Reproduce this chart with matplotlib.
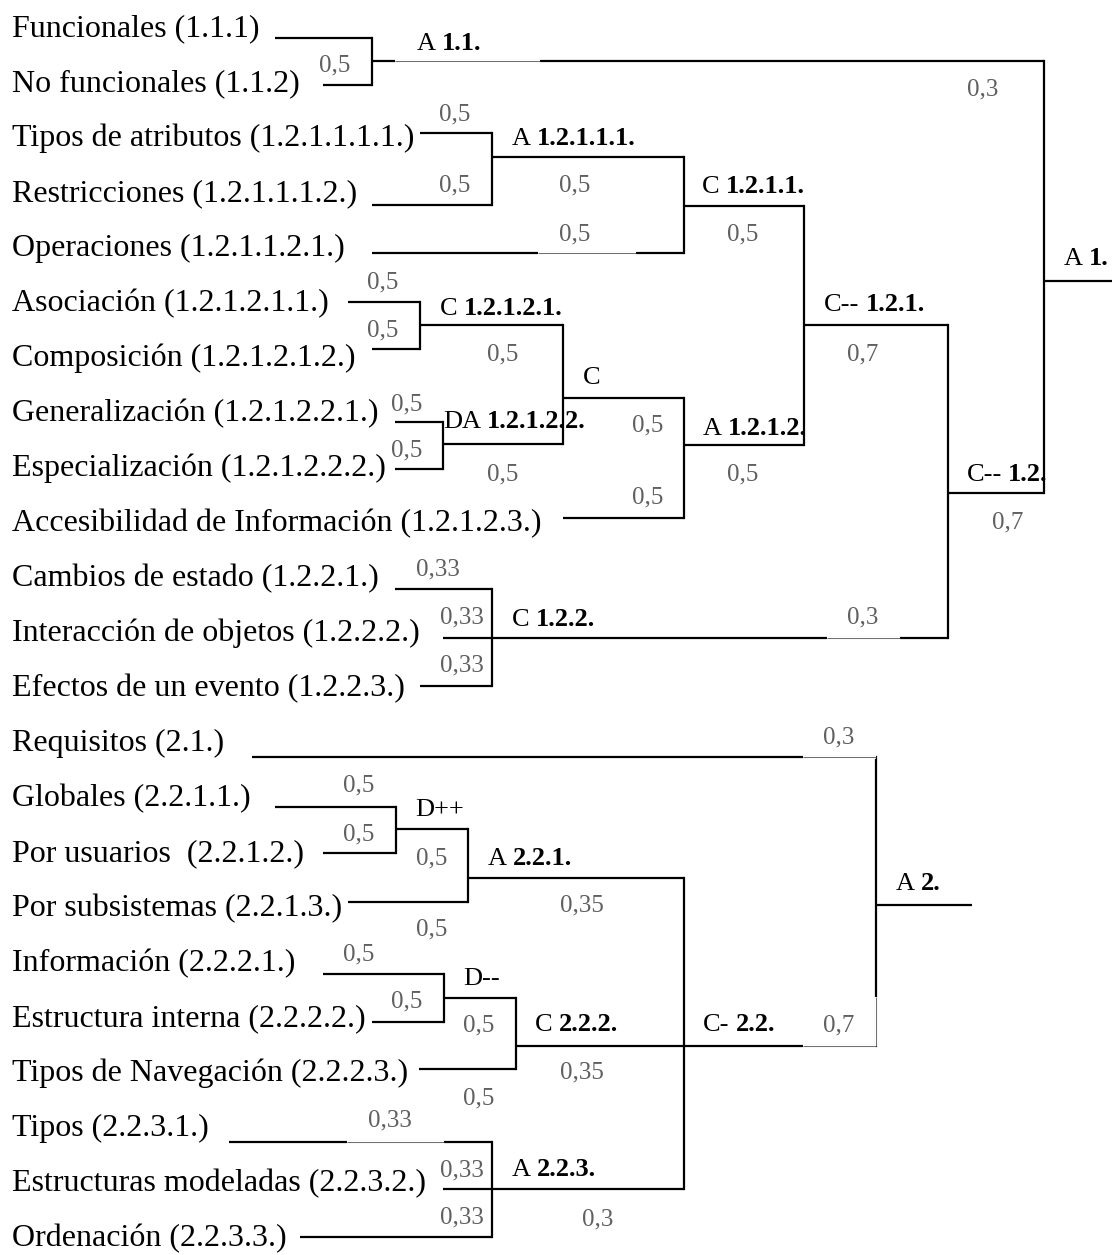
import matplotlib
matplotlib.use("Agg")
import matplotlib.pyplot as plt

# ---- data: leaves, aggregation nodes, weights ----
leaf_labels = [
    "Funcionales (1.1.1)", "No funcionales (1.1.2)",
    "Tipos de atributos (1.2.1.1.1.1.)", "Restricciones (1.2.1.1.1.2.)",
    "Operaciones (1.2.1.1.2.1.)", "Asociación (1.2.1.2.1.1.)",
    "Composición (1.2.1.2.1.2.)", "Generalización (1.2.1.2.2.1.)",
    "Especialización (1.2.1.2.2.2.)", "Accesibilidad de Información (1.2.1.2.3.)",
    "Cambios de estado (1.2.2.1.)", "Interacción de objetos (1.2.2.2.)",
    "Efectos de un evento (1.2.2.3.)", "Requisitos (2.1.)",
    "Globales (2.2.1.1.)", "Por usuarios  (2.2.1.2.)",
    "Por subsistemas (2.2.1.3.)", "Información (2.2.2.1.)",
    "Estructura interna (2.2.2.2.)", "Tipos de Navegación (2.2.2.3.)",
    "Tipos (2.2.3.1.)", "Estructuras modeladas (2.2.3.2.)",
    "Ordenación (2.2.3.3.)",
]
leaf_weights = ["", "0,5", "0,5", "0,5", "0,5", "0,5", "0,5", "0,5", "0,5", "0,5",
                "0,33", "0,33", "0,33", "0,3", "0,5", "0,5", "0,5", "0,5", "0,5",
                "0,5", "0,33", "0,33", "0,33"]

node_names = ["A11", "A12111", "C1211", "C12121", "DA12122", "Cx", "A1212", "C121",
              "C122", "C12", "A1", "Dpp", "A221", "Dmm", "C222", "A223", "C22", "A2"]
node_ops = ["A", "A", "C", "C", "DA", "C", "A", "C--", "C", "C--", "A",
            "D++", "A", "D--", "C", "A", "C-", "A"]
node_codes = ["1.1.", "1.2.1.1.1.", "1.2.1.1.", "1.2.1.2.1.", "1.2.1.2.2.", "",
              "1.2.1.2.", "1.2.1.", "1.2.2.", "1.2.", "1.", "", "2.2.1.", "",
              "2.2.2.", "2.2.3.", "2.2.", "2."]
node_children = [[0, 1], [2, 3], ["A12111", 4], [5, 6], [7, 8], ["C12121", "DA12122"],
                 ["Cx", 9], ["C1211", "A1212"], [10, 11, 12], ["C121", "C122"],
                 ["A11", "C12"], [14, 15], ["Dpp", 16], [17, 18], ["Dmm", 19],
                 [20, 21, 22], ["A221", "C222", "A223"], [13, "C22"]]
node_weights = ["0,3", "0,5", "0,5", "0,5", "0,5", "0,5", "0,5", "0,7", "0,3", "0,7",
                "", "0,5", "0,35", "0,5", "0,35", "0,3", "0,7", ""]

# ---- layout (pixel coordinates of the page) ----
row_base0, row_step = 36, 55
leaf_x0 = [275, 323, 420, 372, 372, 348, 372, 395, 395, 563, 395, 443, 420,
           252, 275, 323, 348, 323, 372, 419, 229, 443, 300]
leaf_y = [38, 85, 133, 205, 253, 302, 349, 422, 469, 518, 589, 638, 686,
          757, 807, 853, 902, 974, 1022, 1069, 1142, 1189, 1237]
leaf_wpos = [None, (335, 63), (455, 112), (455, 183), (575, 232), (383, 280),
             (383, 328), (407, 402), (407, 448), (648, 495), (438, 567), (462, 615),
             (462, 663), (839, 735), (359, 783), (359, 832), (432, 927), (359, 952),
             (407, 999), (479, 1096), (390, 1118), (462, 1168), (462, 1215)]
bar_x = [372, 492, 684, 420, 443, 563, 684, 804, 492, 948, 1044,
         396, 468, 444, 516, 492, 684, 876]
out_y = [61, 157, 206, 325, 444, 398, 445, 325, 638, 493, 281,
         829, 878, 998, 1046, 1189, 1046, 905]
root_end = {"A1": 1112, "A2": 972}
label_pos = {"A11": (417, 42), "A12111": (512, 137), "C1211": (702, 185),
             "C12121": (440, 307), "DA12122": (443, 420), "Cx": (583, 376),
             "A1212": (703, 427), "C121": (824, 303), "C122": (512, 618),
             "C12": (967, 473), "A1": (1064, 257), "Dpp": (415, 808),
             "A221": (488, 857), "Dmm": (463, 977), "C222": (535, 1023),
             "C22": (703, 1023), "A223": (512, 1168), "A2": (896, 882)}
node_wpos = {"A11": (983, 87), "A12111": (575, 183), "C1211": (743, 232),
             "C12121": (503, 352), "DA12122": (503, 472), "Cx": (648, 423),
             "A1212": (743, 472), "C121": (863, 352), "C122": (863, 615),
             "C12": (1008, 520), "Dpp": (432, 856), "A221": (582, 903),
             "Dmm": (479, 1023), "C222": (582, 1070), "A223": (598, 1217),
             "C22": (839, 1023)}
# spans where a text box covers the line and leaves only a hairline
thin_h = [("A11", 395, 540), (4, 538, 636), ("C122", 827, 900),
          (20, 347, 444), (13, 803, 876), ("C22", 803, 876)]
thin_v = [("A2", 997, 1046)]

serif = "Liberation Serif"
leaf_fs, node_fs, w_fs = 23, 19, 18
grey = "#606060"
lw = 1.6

fig = plt.figure(figsize=(11.12, 12.55), dpi=100)
ax = fig.add_axes([0, 0, 1, 1])
ax.set_xlim(0, 1112)
ax.set_ylim(1255, 0)
ax.axis("off")

idx = {n: i for i, n in enumerate(node_names)}
parent = {}
for i, ch in enumerate(node_children):
    for c in ch:
        parent[c] = node_names[i]


def child_y(c):
    return leaf_y[c] if isinstance(c, int) else out_y[idx[c]]


def weight(text, pos):
    if text and pos:
        ax.text(pos[0], pos[1] + 8, text, ha="center", va="baseline",
                fontsize=w_fs, family=serif, color=grey, zorder=4)


# leaves
for i, lab in enumerate(leaf_labels):
    ax.text(12, row_base0 + row_step * i, lab, ha="left", va="baseline",
            fontsize=leaf_fs, family=serif, color="black")
    ax.plot([leaf_x0[i], bar_x[idx[parent[i]]]], [leaf_y[i], leaf_y[i]],
            color="black", lw=lw, solid_capstyle="butt")
    weight(leaf_weights[i], leaf_wpos[i])

renderer = fig.canvas.get_renderer()
inv = ax.transData.inverted()

# nodes
for i, name in enumerate(node_names):
    ys = [child_y(c) for c in node_children[i]]
    ax.plot([bar_x[i], bar_x[i]], [min(ys), max(ys)], color="black", lw=lw,
            solid_capstyle="projecting")
    x_end = root_end.get(name)
    if x_end is None:
        x_end = bar_x[idx[parent[name]]]
    ax.plot([bar_x[i], x_end], [out_y[i], out_y[i]], color="black", lw=lw,
            solid_capstyle="butt")
    weight(node_weights[i], node_wpos.get(name))

    lx, ly = label_pos[name]
    t = ax.text(lx, ly + 8, node_ops[i], ha="left", va="baseline",
                fontsize=node_fs, family=serif, color="black", zorder=4)
    if node_codes[i]:
        bb = t.get_window_extent(renderer)
        x1 = inv.transform((bb.x1, bb.y0))[0]
        ax.text(x1 + 6, ly + 8, node_codes[i], ha="left", va="baseline",
                fontsize=node_fs, family=serif, weight="bold", color="black",
                zorder=4)

# hairline parts
for key, x0, x1 in thin_h:
    y = child_y(key)
    ax.plot([x0, x1], [y, y], color="white", lw=lw + 1, solid_capstyle="butt", zorder=3)
    ax.plot([x0, x1], [y, y], color="#555555", lw=0.6, solid_capstyle="butt", zorder=3)
for name, y0, y1 in thin_v:
    x = bar_x[idx[name]]
    ax.plot([x, x], [y0, y1], color="white", lw=lw + 1, solid_capstyle="butt", zorder=3)
    ax.plot([x, x], [y0, y1], color="#555555", lw=0.6, solid_capstyle="butt", zorder=3)

fig.savefig("out.png", dpi=100, facecolor="white")
